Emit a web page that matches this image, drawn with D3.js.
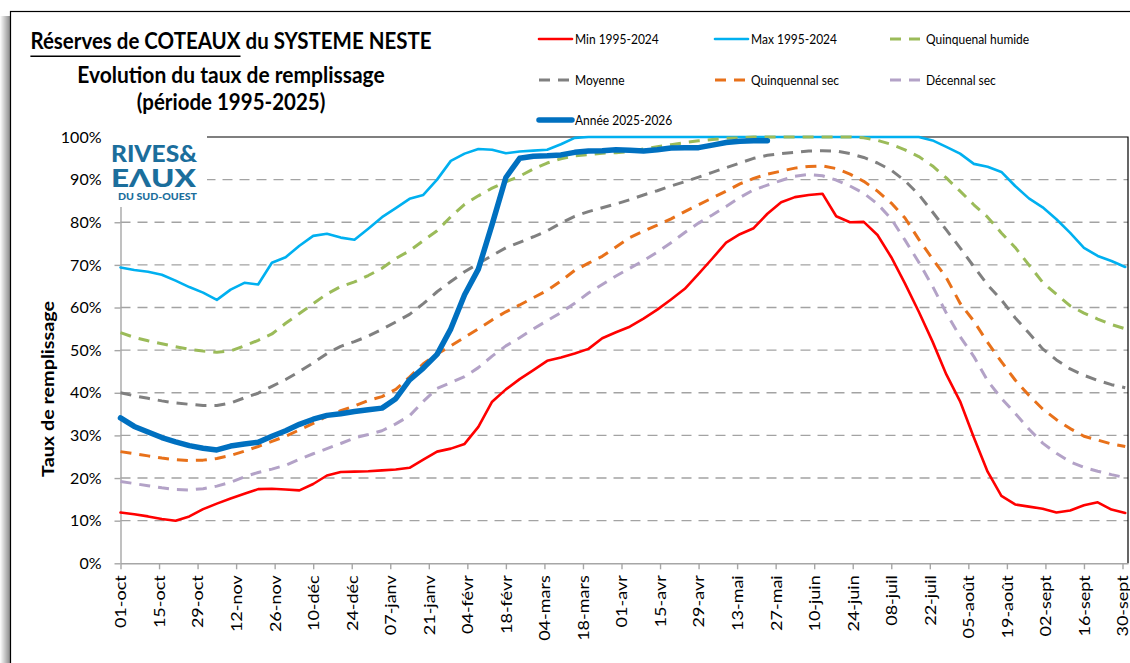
<!DOCTYPE html>
<html lang="fr">
<head>
<meta charset="UTF-8">
<title>Réserves de COTEAUX du SYSTEME NESTE</title>
<script src="https://d3js.org/d3.v7.min.js"></script>
<style>
    body { margin: 0; background: #fff; }
    svg text { font-family: Lato, "Noto Sans", sans-serif; fill: #000; }
</style>
</head>
<body>
<svg id="chart" width="1130" height="663"></svg>
<script>
// one point every 5 days starting 01-oct
const days = d3.range(0, 366, 5);

const tickLabels = ["01-oct", "15-oct", "29-oct", "12-nov", "26-nov", "10-déc", "24-déc",
    "07-janv", "21-janv", "04-févr", "18-févr", "04-mars", "18-mars", "01-avr", "15-avr",
    "29-avr", "13-mai", "27-mai", "10-juin", "24-juin", "08-juil", "22-juil", "05-août",
    "19-août", "02-sept", "16-sept", "30-sept"];

const minVals = [11.9, 11.5, 11.0, 10.4, 10.0, 11.0, 12.7, 14.0, 15.2, 16.3,
    17.4, 17.5, 17.3, 17.1, 18.6, 20.6, 21.4, 21.5, 21.6, 21.8,
    22.0, 22.4, 24.3, 26.2, 26.9, 28.0, 32.0, 37.9, 40.8, 43.2,
    45.3, 47.5, 48.3, 49.2, 50.3, 52.8, 54.2, 55.5, 57.4, 59.5,
    61.9, 64.4, 67.9, 71.5, 75.2, 77.2, 78.6, 82.0, 84.7, 85.9,
    86.4, 86.7, 81.4, 80.0, 80.1, 77.0, 71.8, 65.6, 59.0, 52.0,
    44.3, 38.0, 29.5, 21.5, 15.8, 13.8, 13.3, 12.8, 11.9, 12.4,
    13.6, 14.3, 12.6, 11.8];

const maxVals = [69.4, 68.8, 68.4, 67.7, 66.3, 64.8, 63.5, 61.8, 64.2, 65.8,
    65.4, 70.5, 71.8, 74.5, 76.8, 77.3, 76.4, 75.9, 78.5, 81.2,
    83.3, 85.5, 86.4, 90.0, 94.4, 96.1, 97.2, 97.0, 96.2, 96.6,
    96.8, 97.0, 98.3, 99.8, 100, 100, 100, 100, 100, 100,
    100, 100, 100, 100, 100, 100, 100, 100, 100, 100,
    100, 100, 100, 100, 100, 100, 100, 100, 100, 99.2,
    97.7, 96.1, 93.7, 93.0, 91.8, 88.5, 85.6, 83.5, 80.7, 77.5,
    74.0, 72.1, 70.9, 69.5];

const humideVals = [54.1, 53.0, 52.2, 51.5, 50.8, 50.2, 49.8, 49.5, 49.8, 51.0,
    52.3, 53.8, 56.3, 58.6, 60.9, 63.2, 64.9, 66.0, 67.5, 69.2,
    71.5, 73.3, 75.7, 78.0, 81.3, 84.2, 86.2, 88.0, 89.5, 90.8,
    92.5, 93.9, 94.9, 95.6, 95.9, 96.2, 96.3, 96.6, 97.2, 97.7,
    98.2, 98.7, 99.1, 99.4, 99.7, 99.8, 100, 100, 100, 100,
    100, 100, 100, 100, 99.8, 99.2, 98.3, 97.0, 95.4, 93.2,
    90.4, 87.3, 84.1, 81.2, 77.5, 74.1, 70.0, 65.9, 63.1, 60.4,
    58.7, 57.3, 56.0, 55.0];

const moyVals = [40.0, 39.3, 38.7, 38.1, 37.6, 37.3, 37.0, 37.0, 37.6, 38.8,
    39.9, 41.5, 43.1, 45.0, 47.0, 49.2, 50.9, 52.0, 53.3, 54.9,
    56.6, 58.4, 60.9, 63.7, 66.1, 68.4, 70.3, 72.2, 74.0, 75.3,
    76.6, 78.0, 79.8, 81.4, 82.5, 83.4, 84.3, 85.3, 86.4, 87.4,
    88.5, 89.5, 90.6, 91.7, 92.8, 93.9, 95.0, 95.7, 96.1, 96.4,
    96.7, 96.8, 96.7, 96.1, 95.2, 93.9, 92.2, 89.7, 86.5, 82.4,
    78.2, 74.0, 69.6, 65.3, 61.8, 57.6, 54.0, 50.3, 47.7, 45.6,
    44.1, 42.9, 41.9, 41.2];

const secVals = [26.2, 25.7, 25.2, 24.7, 24.3, 24.1, 24.2, 24.6, 25.3, 26.3,
    27.4, 28.6, 29.8, 31.3, 32.8, 34.5, 35.8, 36.9, 38.2, 39.1,
    40.8, 43.7, 46.8, 49.1, 51.0, 53.0, 55.0, 57.1, 59.0, 60.6,
    62.3, 64.0, 66.2, 68.7, 70.4, 72.0, 74.2, 76.4, 77.9, 79.3,
    80.8, 82.5, 84.1, 85.7, 87.3, 89.0, 90.3, 91.3, 92.0, 92.7,
    93.1, 93.2, 92.6, 91.3, 89.6, 87.3, 84.5, 81.0, 76.0, 71.4,
    67.0, 61.0, 56.8, 51.8, 47.3, 43.0, 39.4, 36.2, 33.7, 31.6,
    29.8, 28.9, 28.0, 27.4];

const decVals = [19.2, 18.7, 18.2, 17.7, 17.3, 17.2, 17.5, 18.1, 19.0, 20.3,
    21.3, 22.1, 23.0, 24.4, 25.7, 26.9, 28.1, 29.4, 30.2, 31.1,
    32.7, 34.6, 38.0, 41.0, 42.4, 43.8, 45.9, 48.6, 51.0, 52.9,
    55.0, 56.9, 58.8, 61.0, 63.4, 65.4, 67.4, 69.2, 71.0, 73.0,
    75.2, 77.6, 79.8, 81.7, 83.7, 85.8, 87.6, 88.7, 89.8, 90.8,
    91.2, 90.9, 89.9, 88.5, 86.8, 84.3, 80.8, 75.8, 70.6, 65.0,
    58.7, 53.2, 48.5, 42.8, 38.7, 35.2, 31.5, 28.2, 25.8, 23.8,
    22.5, 21.6, 20.8, 20.1];

const anneeVals = [34.1, 32.1, 30.8, 29.5, 28.5, 27.6, 27.0, 26.6, 27.5, 28.0,
    28.4, 29.8, 31.1, 32.6, 33.8, 34.7, 35.1, 35.6, 36.0, 36.4,
    38.6, 43.0, 45.8, 49.0, 55.0, 63.0, 69.0, 79.5, 90.5, 95.0,
    95.5, 95.6, 95.8, 96.4, 96.7, 96.8, 97.0, 96.9, 96.7, 97.0,
    97.4, 97.5, 97.5, 98.1, 98.7, 99.0, 99.1, 99.1];

const series = [
    { name: "Min 1995-2024", values: minVals, color: "#ff0000", width: 2.6, dash: null },
    { name: "Max 1995-2024", values: maxVals, color: "#00b0f0", width: 2.6, dash: null },
    { name: "Quinquenal humide", values: humideVals, color: "#9bbb59", width: 3, dash: "11,8" },
    { name: "Moyenne", values: moyVals, color: "#808080", width: 3, dash: "11,8" },
    { name: "Quinquennal sec", values: secVals, color: "#e8711a", width: 3, dash: "11,8" },
    { name: "Décennal sec", values: decVals, color: "#b3a2c7", width: 3, dash: "11,8" },
    { name: "Année 2025-2026", values: anneeVals, color: "#0070c0", width: 5.5, dash: null }
];

const svg = d3.select("#chart");

// frame and its shadow
const defs = svg.append("defs");
const grad = defs.append("linearGradient").attr("id", "shadow");
grad.append("stop").attr("offset", "0%").attr("stop-color", "#ffffff");
grad.append("stop").attr("offset", "100%").attr("stop-color", "#8c8c8c");
svg.append("rect").attr("x", 0).attr("y", 16).attr("width", 10).attr("height", 660)
    .attr("fill", "url(#shadow)");
svg.append("rect").attr("x", 10.5).attr("y", 11.5).attr("width", 1200).attr("height", 700)
    .attr("fill", "#fff").attr("stroke", "#000").attr("stroke-width", 1.2);

const x = d3.scaleLinear().domain([0, 366]).range([120.5, 1128]);
const y = d3.scaleLinear().domain([0, 100]).range([563.3, 137]);

// gridlines
svg.append("g")
    .selectAll("line")
    .data(d3.range(10, 100, 10))
    .join("line")
    .attr("x1", x(0)).attr("x2", x(366))
    .attr("y1", d => y(d)).attr("y2", d => y(d))
    .attr("stroke", "#a3a3a3")
    .attr("stroke-width", 1.4)
    .attr("stroke-dasharray", "10,7");

// plot border (top / right)
svg.append("path")
    .attr("d", `M${x(0)},${y(100)}H${x(366)}V${y(0)}`)
    .attr("fill", "none").attr("stroke", "#000").attr("stroke-width", 1.2);

// y axis
const yAxis = svg.append("g")
    .attr("transform", `translate(${x(0)},0)`)
    .call(d3.axisLeft(y).tickValues(d3.range(0, 101, 10)).tickFormat(d => d + "%")
        .tickSizeInner(6).tickSizeOuter(0).tickPadding(13));
yAxis.select(".domain").attr("stroke", "#a6a6a6").attr("stroke-width", 1.4);
yAxis.selectAll(".tick line").attr("stroke", "#a6a6a6").attr("stroke-width", 1.4);
yAxis.selectAll(".tick text").style("font-family", "Lato, sans-serif")
    .style("font-size", "16px").attr("fill", "#000");

// x axis
const xAxis = svg.append("g")
    .attr("transform", `translate(0,${y(0)})`)
    .call(d3.axisBottom(x).tickValues(d3.range(0, 365, 14)).tickFormat((d, i) => tickLabels[i])
        .tickSizeInner(6).tickSizeOuter(0));
xAxis.select(".domain").attr("stroke", "#a6a6a6").attr("stroke-width", 1.4);
xAxis.selectAll(".tick line").attr("stroke", "#a6a6a6").attr("stroke-width", 1.4);
xAxis.selectAll(".tick text")
    .attr("x", 0).attr("y", 0).attr("dy", "0.36em")
    .attr("transform", "translate(0,12) rotate(-90) scale(1.2,1)")
    .attr("text-anchor", "end")
    .style("font-family", "Lato, sans-serif")
    .style("font-size", "15px").attr("fill", "#000");

// series lines
const line = d3.line()
    .x((d, i) => x(days[i]))
    .y(d => y(d));

svg.append("g")
    .selectAll("path")
    .data(series)
    .join("path")
    .attr("d", d => line(d.values))
    .attr("fill", "none")
    .attr("stroke", d => d.color)
    .attr("stroke-width", d => d.width)
    .attr("stroke-dasharray", d => d.dash)
    .attr("stroke-linejoin", "round")
    .attr("stroke-linecap", d => d.dash ? "butt" : "round");

// logo
const logo = svg.append("g");
logo.append("rect").attr("x", 105).attr("y", 131).attr("width", 102).attr("height", 76).attr("fill", "#fff");
logo.append("text").attr("x", 111).attr("y", 162).attr("textLength", 86).attr("lengthAdjust", "spacingAndGlyphs")
    .style("font-size", "22px").style("font-weight", "900").style("fill", "#1b6e9c").text("RIVES&");
logo.append("text").attr("x", 111).attr("y", 187).attr("textLength", 85).attr("lengthAdjust", "spacingAndGlyphs")
    .style("font-size", "25px").style("font-weight", "900").style("fill", "#1b6e9c").text("EΛUX");
logo.append("text").attr("x", 118).attr("y", 199.5).attr("textLength", 79).attr("lengthAdjust", "spacingAndGlyphs")
    .style("font-size", "9.5px").style("font-weight", "900").style("fill", "#1b6e9c").text("DU SUD-OUEST");

// titles
const title = svg.append("g").attr("transform", "translate(231,0)");
const t1g = title.append("g").attr("transform", "translate(0,49) scale(1,1.12)");
const t1 = t1g.append("text").attr("text-anchor", "middle")
    .style("font-size", "20.5px").style("font-weight", "bold");
const part1 = t1.append("tspan").text("Réserves de COTEAUX");
t1.append("tspan").text(" du SYSTEME NESTE");
const totalLen = t1.node().getComputedTextLength();
const p1Len = part1.node().getComputedTextLength();
t1g.append("line")
    .attr("x1", -totalLen / 2).attr("x2", -totalLen / 2 + p1Len)
    .attr("y1", 6.5).attr("y2", 6.5)
    .attr("stroke", "#000").attr("stroke-width", 1.4);

title.append("g").attr("transform", "translate(0,83) scale(1,1.12)")
    .append("text").attr("text-anchor", "middle")
    .style("font-size", "21px").style("font-weight", "bold")
    .text("Evolution du taux de remplissage");
title.append("g").attr("transform", "translate(0,110) scale(1,1.12)")
    .append("text").attr("text-anchor", "middle")
    .style("font-size", "20.5px").style("font-weight", "bold")
    .text("(période 1995-2025)");

// y axis title
svg.append("g").attr("transform", "translate(54,389) rotate(-90) scale(1.13,1)")
    .append("text").attr("text-anchor", "middle")
    .style("font-size", "17.5px").style("font-weight", "bold")
    .text("Taux de remplissage");

// legend
const legendCols = [539, 715, 890];
const legendRows = [39, 80, 120];
const legend = svg.append("g")
    .selectAll("g")
    .data(series)
    .join("g")
    .attr("transform", (d, i) => `translate(${legendCols[i % 3]},${legendRows[Math.floor(i / 3)]})`);
legend.append("line")
    .attr("x1", 0).attr("x2", 33).attr("y1", 0).attr("y2", 0)
    .attr("stroke", d => d.color)
    .attr("stroke-width", d => d.width)
    .attr("stroke-dasharray", d => d.dash)
    .attr("stroke-linecap", d => d.dash ? "butt" : "round");
legend.append("g").attr("transform", "translate(36,0) scale(1,1.18)")
    .append("text")
    .attr("dy", "0.36em")
    .style("font-size", "12px")
    .text(d => d.name);
</script>
</body>
</html>
